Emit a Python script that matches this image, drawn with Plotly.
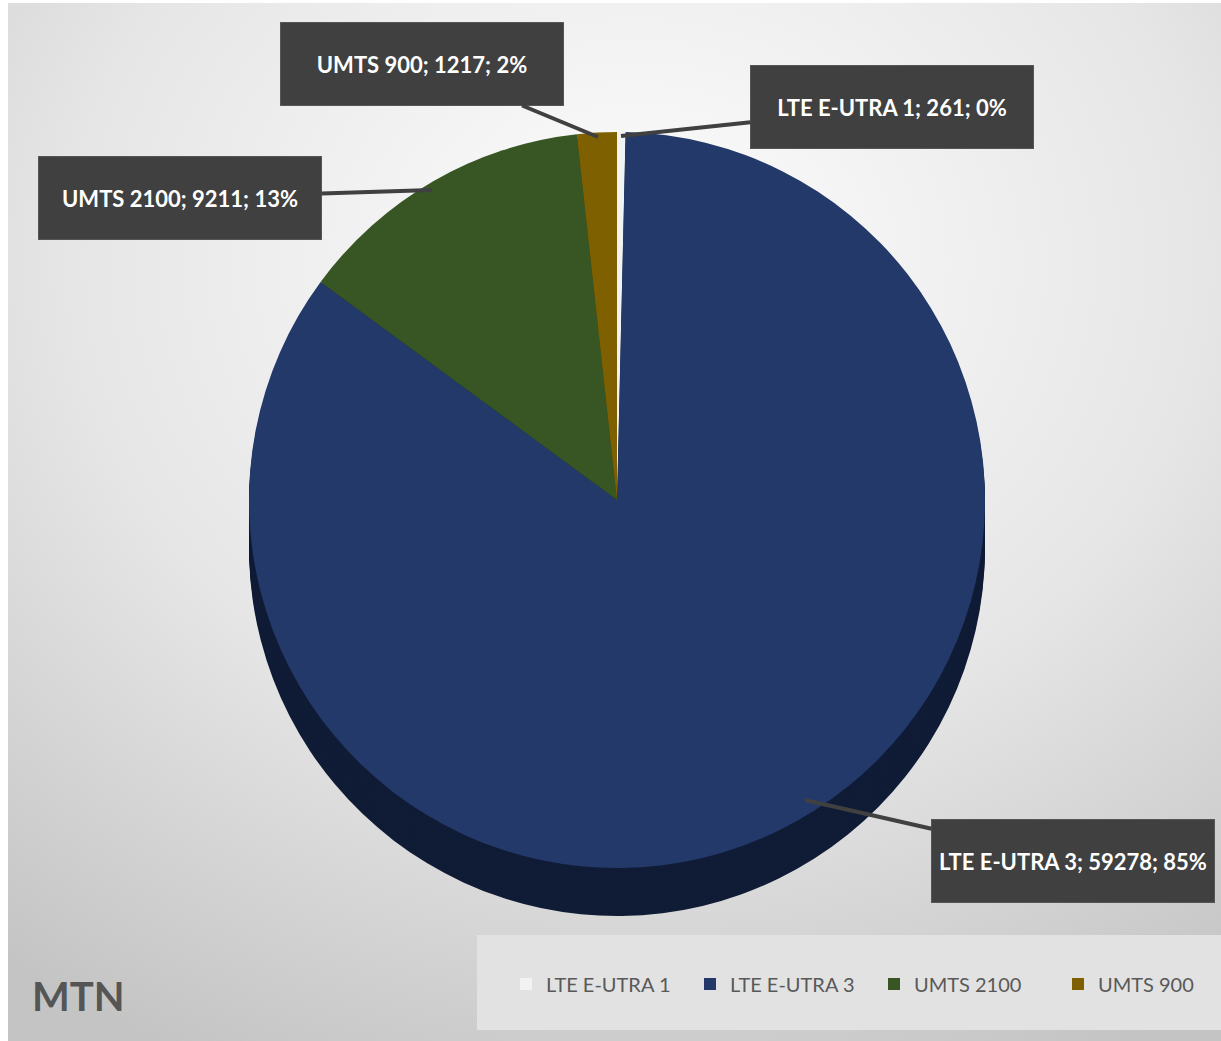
import base64
import plotly.graph_objects as go

labels = ["LTE E-UTRA 1", "LTE E-UTRA 3", "UMTS 2100", "UMTS 900"]
values = [261, 59278, 9211, 1217]
percents = ["0%", "85%", "13%", "2%"]
top_colors = ["#f2f2f2", "#22396a", "#375623", "#7f6000"]
side_colors = ["#b0b0b0", "#101c36", "#1e3312", "#4a3800"]

W, H = 1221, 1041
cx, cy, r = 617, 500, 368
depth = 48


def dom(cx_px, cy_px, rad):
    return dict(x=[(cx_px - rad) / W, (cx_px + rad) / W],
                y=[1 - (cy_px + rad) / H, 1 - (cy_px - rad) / H])


fig = go.Figure()

# extruded side (layers of darker pies)
for k in range(depth, 0, -3):
    fig.add_trace(go.Pie(labels=labels, values=values, sort=False, direction="clockwise",
                         rotation=0, domain=dom(cx, cy + k, r), textinfo="none",
                         hoverinfo="skip", showlegend=False,
                         marker=dict(colors=side_colors, line=dict(width=0))))

fig.add_trace(go.Pie(labels=labels, values=values, sort=False, direction="clockwise",
                     rotation=0, domain=dom(cx, cy, r), textinfo="none",
                     marker=dict(colors=top_colors, line=dict(width=0)),
                     showlegend=True))

svg = ('<svg xmlns="http://www.w3.org/2000/svg" width="1221" height="1041">'
       '<defs><radialGradient id="g" cx="0.52" cy="0.25" r="0.85">'
       '<stop offset="0" stop-color="#fdfdfd"/><stop offset="0.55" stop-color="#e6e6e6"/>'
       '<stop offset="1" stop-color="#c4c4c4"/></radialGradient></defs>'
       '<rect width="1221" height="1041" fill="url(#g)"/></svg>')
src = "data:image/svg+xml;base64," + base64.b64encode(svg.encode()).decode()

label_font = dict(family="Lato, Roboto, sans-serif", size=22, color="white")

# annotation placements: (label index, tip px, box center px)
place = [
    (3, (598, 137), (422, 64)),
    (0, (621, 136), (892, 107)),
    (2, (432, 190), (180, 198)),
    (1, (805, 800), (1073, 861)),
]
annotations = []
for i, (tx, ty), (bx, by) in place:
    annotations.append(dict(
        x=tx / W, y=1 - ty / H, xref="paper", yref="paper",
        ax=bx - tx, ay=by - ty, axref="pixel", ayref="pixel",
        text=f"<b>{labels[i]}; {values[i]}; {percents[i]}</b>",
        showarrow=True, arrowhead=0, arrowwidth=4, arrowcolor="#404040",
        bgcolor="#404040", bordercolor="#555555", borderwidth=1,
        width=280, height=80, align="center", valign="middle",
        font=label_font, standoff=0, startstandoff=0,
    ))

annotations.append(dict(
    x=30 / W, y=1 - 996 / H, xref="paper", yref="paper", xanchor="left", yanchor="middle",
    text="<b>MTN</b>", showarrow=False,
    font=dict(family="Lato, sans-serif", size=40, color="#555555"),
))

fig.update_layout(
    width=W, height=H, margin=dict(l=0, r=0, t=0, b=0, autoexpand=False),
    paper_bgcolor="white",
    images=[dict(source=src, xref="paper", yref="paper", x=8 / W, y=1 - 3 / H,
                 sizex=1 - 8 / W, sizey=1 - 3 / H, sizing="stretch", layer="below",
                 xanchor="left", yanchor="top")],
    shapes=[dict(type="rect", xref="paper", yref="paper",
                 x0=477 / W, x1=1.0, y0=1 - 1030 / H, y1=1 - 935 / H,
                 fillcolor="#e2e2e2", line=dict(width=0), layer="below")],
    legend=dict(orientation="h", x=506 / W, y=1 - 984 / H, xanchor="left", yanchor="middle",
                bgcolor="rgba(0,0,0,0)", entrywidth=139, entrywidthmode="pixels",
                font=dict(family="Lato, sans-serif", size=20, color="#595959"),
                itemwidth=30, traceorder="normal", tracegroupgap=0),
    annotations=annotations,
    showlegend=True,
)

fig.write_html("out.html")
